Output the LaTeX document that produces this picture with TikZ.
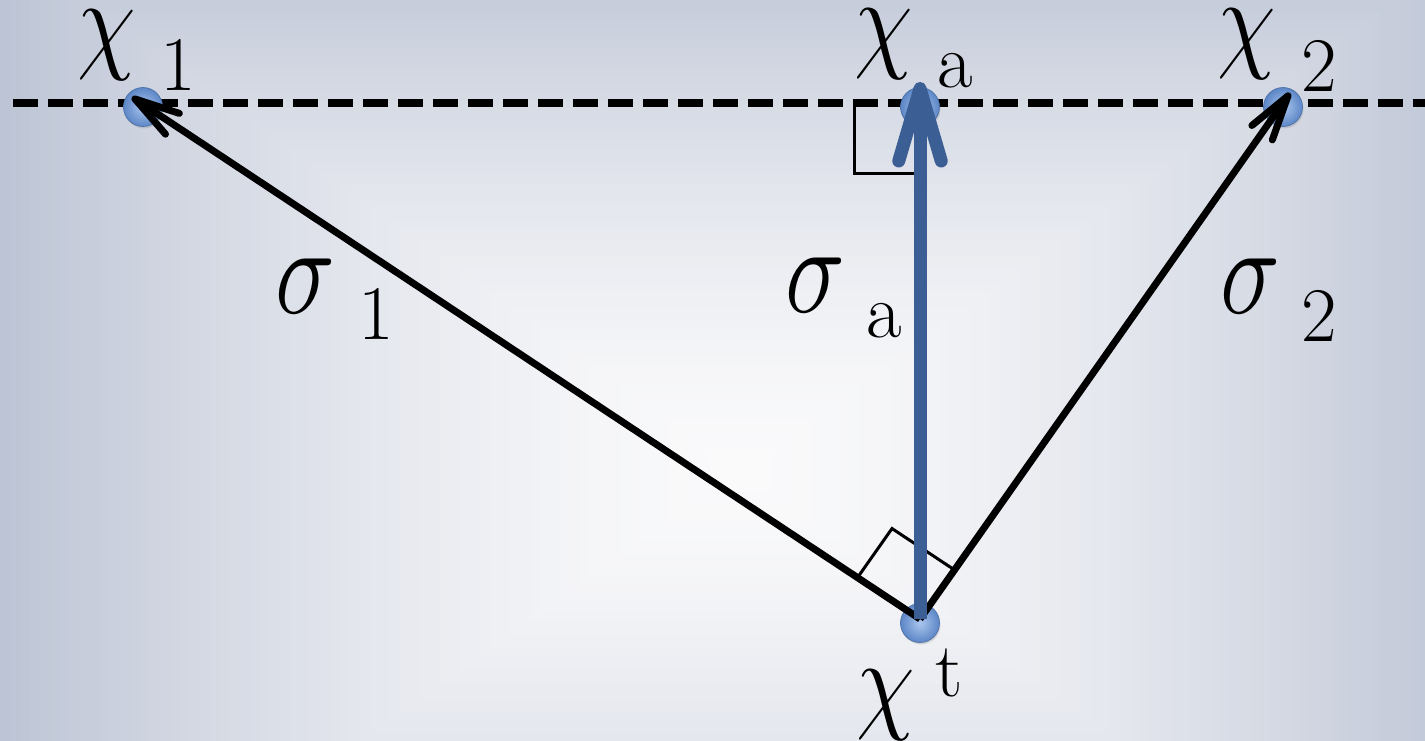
\RequirePackage{fix-cm}
\documentclass[tikz,border=0pt]{standalone}
\usepackage{graphicx}
\usetikzlibrary{arrows.meta,calc,shadows}
\definecolor{bgE}{RGB}{186,194,211}
\definecolor{bgC}{RGB}{250,250,251}
\definecolor{dotIn}{RGB}{170,198,238}
\definecolor{dotOut}{RGB}{92,134,198}
\definecolor{arrBlue}{RGB}{59,95,148}
\tikzset{
  dot/.style={circle, minimum size=0.78cm, inner sep=0pt, shading=radial,
    inner color=dotIn, outer color=dotOut, draw=dotOut!85!black, line width=0.4pt,
    drop shadow={opacity=0.25, shadow xshift=0.02cm, shadow yshift=-0.04cm}},
  chilab/.style={inner sep=0pt, font=\fontsize{64}{64}\selectfont},
  siglab/.style={inner sep=0pt, font=\fontsize{72}{72}\selectfont},
  sublab/.style={inner sep=0pt, font=\fontsize{44}{44}\selectfont},
  blackarrow/.style={line width=0.14cm, -{Straight Barb[length=0.9cm,width=0.5cm,round]}},
  bluearrow/.style={line width=0.26cm, draw=arrBlue, -{Straight Barb[length=1.45cm,width=0.85cm,round]}},
  rightmark/.style={line width=0.06cm},
  dashline/.style={line width=0.16cm, dash pattern=on 0.5cm off 0.2cm}
}
\begin{document}
\begin{tikzpicture}[x=0.02cm, y=-0.02cm]
\useasboundingbox (0,0) rectangle (1425,740);
% background box gradient
\begin{scope}
\clip (0,0) rectangle (1425,740);
\foreach \r in {0,...,80}{
  \pgfmathsetmacro\rr{(80-\r)*10}
  \pgfmathtruncatemacro\p{min(100,100*(\rr/760)^1.5)}
  \fill[bgE!\p!bgC] ({740-\rr},{470-\rr/1.4}) rectangle ({740+\rr},{470+\rr/1.4});
}
\end{scope}
% dashed line
\coordinate (dl) at (13,103);
\coordinate (dr) at (1425,103);
\draw[dashline] (dl) -- (dr);
% right angle at x_a
\draw[rightmark] (854,103) -- (854,173) -- (915,173);
% points
\node[dot] (x1) at (143,107) {};
\node[dot] (xa) at (920,107) {};
\node[dot] (x2) at (1283,107) {};
\node[dot] (xt) at (920,623) {};
\coordinate (s) at (920,619);
\coordinate (t1) at (132,97);
\coordinate (ta) at (920,82);
\coordinate (t2) at (1290,93);
% right angle at x_t
\coordinate (ra) at ($(s)!1.5cm!(t1)$);
\coordinate (rc) at ($(s)!1.2cm!(t2)$);
\draw[rightmark] (ra) -- ($(ra)+(rc)-(s)$) -- (rc);
% arrows
\draw[blackarrow] (s) -- (t1);
\draw[blackarrow] (s) -- (t2);
\draw[bluearrow] (s) -- (ta);
% labels
\node[chilab] (c1) at (107,45) {\scalebox{0.85}[1]{$\chi$}};
\node[sublab] (c1s) at (178,65) {1};
\node[chilab] (ca) at (884,44) {\scalebox{0.85}[1]{$\chi$}};
\node[sublab] (cas) at (955,71) {a};
\node[chilab] (c2) at (1247,44) {\scalebox{0.85}[1]{$\chi$}};
\node[sublab] (c2s) at (1319,66) {2};
\node[chilab] (ct) at (886,705) {\scalebox{0.85}[1]{$\chi$}};
\node[sublab] (cts) at (949,673) {t};
\node[siglab] (s1) at (305,286) {\scalebox{0.8}[1]{$\sigma$}};
\node[sublab] (s1s) at (376,314) {1};
\node[siglab] (sa) at (815,285) {\scalebox{0.8}[1]{$\sigma$}};
\node[sublab] (sas) at (884,321) {a};
\node[siglab] (s2) at (1250,286) {\scalebox{0.8}[1]{$\sigma$}};
\node[sublab] (s2s) at (1319,316) {2};
\end{tikzpicture}
\end{document}
